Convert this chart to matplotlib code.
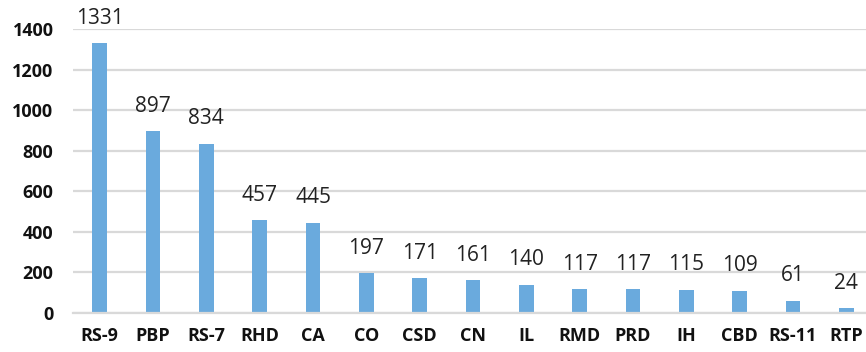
import matplotlib
matplotlib.use('Agg')
import matplotlib.pyplot as plt

# values
categories = ['RS-9', 'PBP', 'RS-7', 'RHD', 'CA', 'CO', 'CSD', 'CN', 'IL',
              'RMD', 'PRD', 'IH', 'CBD', 'RS-11', 'RTP']
counts = [1331, 897, 834, 457, 445, 197, 171, 161, 140, 117, 117, 115, 109, 61, 24]
y_ticks = [0, 200, 400, 600, 800, 1000, 1200, 1400]

plt.rcParams['font.family'] = ['Open Sans', 'DejaVu Sans']

fig = plt.figure(figsize=(8.66, 3.52), dpi=100)
# axes run slightly past the right edge, like the cropped original
ax = fig.add_axes([73 / 866, 1 - 313 / 352, 800 / 866, (313 - 29) / 352])

x = range(len(categories))
bars = ax.bar(x, counts, width=0.28, color='#6AAADD', zorder=3)

for xi, v in zip(x, counts):
    ax.annotate(str(v), (xi, v), xytext=(0, 14), textcoords='offset points',
                ha='center', va='baseline', fontsize=15, color='#222222')

ax.set_xlim(-0.5, len(categories) - 0.5)
ax.set_ylim(0, 1400)
ax.set_yticks(y_ticks)
ax.set_yticklabels([str(t) for t in y_ticks], fontsize=13, fontweight='bold')
ax.set_xticks(list(x))
ax.set_xticklabels(categories, fontsize=13, fontweight='bold')

ax.grid(axis='y', color='#D9D9D9', linewidth=1.6, zorder=0)
for side in ['top', 'right', 'left']:
    ax.spines[side].set_visible(False)
ax.spines['bottom'].set_color('#D9D9D9')
ax.spines['bottom'].set_linewidth(1.6)
ax.spines['bottom'].set_zorder(4)
ax.tick_params(axis='both', length=0, colors='#111111')
ax.tick_params(axis='x', pad=10)
ax.tick_params(axis='y', pad=14)

fig.savefig('out.png', dpi=100)
